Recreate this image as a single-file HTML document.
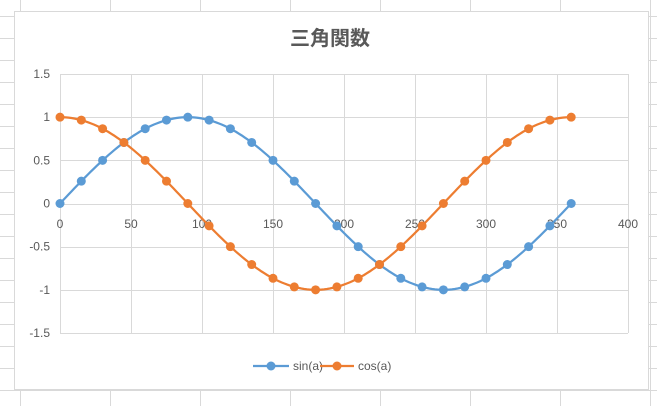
<!DOCTYPE html><html><head><meta charset="utf-8"><style>body{margin:0;width:657px;height:406px;overflow:hidden;background:#fff}svg{display:block}text{font-family:"Liberation Sans","Noto Sans CJK JP",sans-serif;fill:#595959;font-size:12px}</style></head><body>
<svg id="s" width="657" height="406" xmlns="http://www.w3.org/2000/svg">
<g id="bg" stroke="#d9d9d9" stroke-width="1"></g>
<rect x="14.5" y="11.5" width="634" height="378" fill="#fff" stroke="#d9d9d9"/>
<g id="grid" stroke="#d9d9d9" stroke-width="1"></g>
<text x="330" y="45" text-anchor="middle" style="font-size:20px;font-weight:bold;fill:#595959">三角関数</text>
<g id="lab"></g>
<g id="ser"></g>
<line x1="253" y1="366" x2="289" y2="366" stroke="#5b9bd5" stroke-width="2.25"/><circle cx="271" cy="366" r="4.5" fill="#5b9bd5"/>
<text x="293" y="370">sin(a)</text>
<line x1="320" y1="366" x2="354" y2="366" stroke="#ed7d31" stroke-width="2.25"/><circle cx="337" cy="366" r="4.5" fill="#ed7d31"/>
<text x="358" y="370">cos(a)</text>
</svg>
<script>
var NS="http://www.w3.org/2000/svg";
function el(p,t,a){var e=document.createElementNS(NS,t);for(var k in a)e.setAttribute(k,a[k]);p.appendChild(e);return e}
var bg=document.getElementById('bg');
for(var x=20;x<660;x+=90)el(bg,'line',{x1:x+.5,y1:0,x2:x+.5,y2:406});
for(var y=16;y<406;y+=22)el(bg,'line',{x1:0,y1:y+.5,x2:657,y2:y+.5});
var X0=60,XS=568/400,Y0=203.5,YS=86.33;
var g=document.getElementById('grid'),lab=document.getElementById('lab');
for(var i=0;i<=8;i++){var x=X0+i*71;el(g,'line',{x1:x+.5,y1:74,x2:x+.5,y2:333});var t=el(lab,'text',{x:x,y:228,'text-anchor':'middle'});t.textContent=i*50;}
for(var j=-3;j<=3;j++){var v=j*0.5,y=Y0-v*YS;el(g,'line',{x1:60,y1:Math.round(y)+.5,x2:628,y2:Math.round(y)+.5});var t=el(lab,'text',{x:50,y:y+4,'text-anchor':'end'});t.textContent=v;}
var ser=document.getElementById('ser');
[['#5b9bd5',Math.sin],['#ed7d31',Math.cos]].forEach(function(s){
var d='';for(var a=0;a<=360;a+=2){d+=(a?'L':'M')+(X0+a*XS).toFixed(1)+' '+(Y0-s[1](a*Math.PI/180)*YS).toFixed(1);}
el(ser,'path',{d:d,fill:'none',stroke:s[0],'stroke-width':2.25});
for(var a=0;a<=360;a+=15)el(ser,'circle',{cx:X0+a*XS,cy:Y0-s[1](a*Math.PI/180)*YS,r:4.5,fill:s[0]});
});
</script>
</body></html>
